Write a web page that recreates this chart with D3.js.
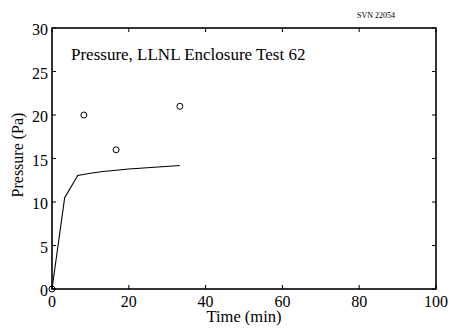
<!DOCTYPE html>
<html><head><meta charset="utf-8">
<script src="https://d3js.org/d3.v7.min.js"></script>
<style>body{margin:0;background:#fff}svg{display:block}text{font-family:"Liberation Serif","Times New Roman",serif;fill:#000}</style>
</head><body>
<script>
const lineTime = [0, 3.3, 6.7, 10, 13.3, 16.7, 20, 26.7, 33.3];
const linePressure = [0, 10.5, 13.05, 13.3, 13.5, 13.65, 13.8, 14.0, 14.2];
const obsTime = [0, 8.3, 16.7, 33.3];
const obsPressure = [0, 20, 16, 21];
const xTicks = [0, 20, 40, 60, 80, 100];
const yTicks = [0, 5, 10, 15, 20, 25, 30];

const W = 451, H = 328;
const L = 52, R = 436, T = 28, B = 289;
const svg = d3.select("body").append("svg").attr("width", W).attr("height", H);
const x = d3.scaleLinear().domain([0, 100]).range([L, R]);
const y = d3.scaleLinear().domain([0, 30]).range([B, T]);

svg.append("rect").attr("x", L).attr("y", T).attr("width", R - L).attr("height", B - T)
  .attr("fill", "none").attr("stroke", "#000").attr("stroke-width", 1.6);

const tl = 4;
const g = svg.append("g");
xTicks.forEach(v => {
  g.append("line").attr("x1", x(v)).attr("x2", x(v)).attr("y1", B).attr("y2", B - tl).attr("stroke", "#000");
  g.append("line").attr("x1", x(v)).attr("x2", x(v)).attr("y1", T).attr("y2", T + tl).attr("stroke", "#000");
  g.append("text").attr("x", x(v)).attr("y", 307).attr("text-anchor", "middle").attr("font-size", 16).text(v);
});
yTicks.forEach(v => {
  g.append("line").attr("x1", L).attr("x2", L + tl).attr("y1", y(v)).attr("y2", y(v)).attr("stroke", "#000");
  g.append("line").attr("x1", R).attr("x2", R - tl).attr("y1", y(v)).attr("y2", y(v)).attr("stroke", "#000");
  g.append("text").attr("x", L - 4).attr("y", y(v) + 7).attr("text-anchor", "end").attr("font-size", 16).text(v);
});

const line = d3.line().x((d, i) => x(lineTime[i])).y(d => y(d));
svg.append("path").datum(linePressure).attr("d", line).attr("fill", "none").attr("stroke", "#000").attr("stroke-width", 1.1);

svg.selectAll("circle.obs").data(obsPressure).enter().append("circle")
  .attr("cx", (d, i) => x(obsTime[i])).attr("cy", d => y(d)).attr("r", 3)
  .attr("fill", "none").attr("stroke", "#000").attr("stroke-width", 1);

svg.append("text").attr("x", 71).attr("y", 60).attr("font-size", 17).text("Pressure, LLNL Enclosure Test 62");
svg.append("text").attr("x", 395).attr("y", 18).attr("text-anchor", "end").attr("font-size", 8).text("SVN 22054");
svg.append("text").attr("x", 244).attr("y", 322).attr("text-anchor", "middle").attr("font-size", 16.5).text("Time (min)");
svg.append("text").attr("transform", "translate(23,155) rotate(-90)").attr("text-anchor", "middle").attr("font-size", 16).text("Pressure (Pa)");
</script>
</body></html>
